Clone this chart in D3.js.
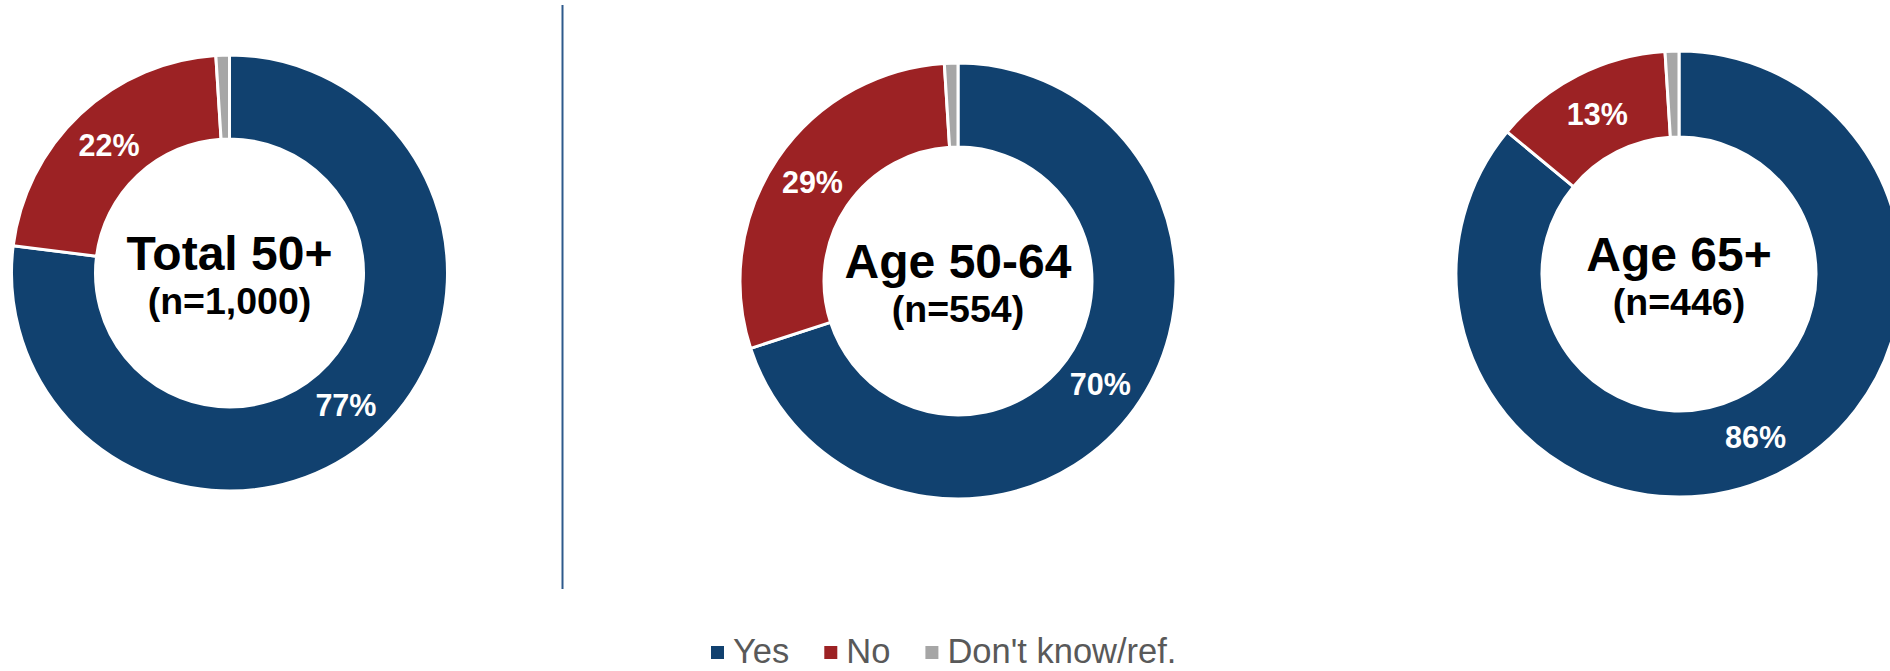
<!DOCTYPE html>
<html>
<head>
<meta charset="utf-8">
<script src="https://cdn.jsdelivr.net/npm/d3@7"></script>
<style>
  html, body { margin: 0; padding: 0; background: #fff; }
  svg { display: block; }
  text { font-family: "Liberation Sans", Arial, sans-serif; }
</style>
</head>
<body>
<svg id="chart" width="1890" height="671"></svg>
<script>
// ---- data ----
const categories = ["Yes", "No", "Don't know/ref."];
const groupTitles = ["Total 50+", "Age 50-64", "Age 65+"];
const groupSizes = ["(n=1,000)", "(n=554)", "(n=446)"];
const yesValues = [77, 70, 86];
const noValues = [22, 29, 13];
const dkValues = [1, 1, 1];

// ---- layout / style ----
const colors = ["#11416f", "#9c2224", "#a6a6a6"];
const layout = [
  { cx: 229.5, cy: 273, outer: 218, inner: 134 },
  { cx: 958, cy: 281, outer: 218, inner: 134 },
  { cx: 1679, cy: 274, outer: 223, inner: 137 }
];

const svg = d3.select("#chart");
const color = d3.scaleOrdinal().domain(categories).range(colors);

const pie = d3.pie().sort(null).value(d => d.value);

groupTitles.forEach((title, i) => {
  const L = layout[i];
  const data = [
    { cat: categories[0], value: yesValues[i] },
    { cat: categories[1], value: noValues[i] },
    { cat: categories[2], value: dkValues[i] }
  ];
  const arc = d3.arc().innerRadius(L.inner).outerRadius(L.outer);
  const mid = (L.inner + L.outer) / 2;
  const labelArc = d3.arc().innerRadius(mid).outerRadius(mid);
  const g = svg.append("g").attr("transform", `translate(${L.cx},${L.cy})`);
  const arcs = pie(data);
  g.selectAll("path").data(arcs).join("path")
    .attr("d", arc)
    .attr("fill", d => color(d.data.cat))
    .attr("stroke", "#fff")
    .attr("stroke-width", 3)
    .attr("stroke-linejoin", "miter");
  g.selectAll("text.pct").data(arcs.filter(d => d.data.value >= 5)).join("text")
    .attr("class", "pct")
    .attr("transform", d => `translate(${labelArc.centroid(d)})`)
    .attr("text-anchor", "middle")
    .attr("dy", "0.36em")
    .attr("fill", "#fff")
    .attr("font-weight", "bold")
    .attr("font-size", 30.5)
    .text(d => d.data.value + "%");
  g.append("text")
    .attr("text-anchor", "middle")
    .attr("y", -3)
    .attr("font-weight", "bold")
    .attr("font-size", 48)
    .attr("fill", "#000")
    .text(title);
  g.append("text")
    .attr("text-anchor", "middle")
    .attr("y", 41)
    .attr("font-weight", "bold")
    .attr("font-size", 37.5)
    .attr("fill", "#000")
    .text(groupSizes[i]);
});

// divider
svg.append("line")
  .attr("x1", 562.5).attr("x2", 562.5)
  .attr("y1", 5).attr("y2", 589)
  .attr("stroke", "#2e5a8c")
  .attr("stroke-width", 2);

// legend
const legend = svg.append("g");
let x = 711;
categories.forEach((c, i) => {
  legend.append("rect")
    .attr("x", x).attr("y", 646)
    .attr("width", 13).attr("height", 13)
    .attr("fill", color(c));
  const t = legend.append("text")
    .attr("x", x + 22).attr("y", 663)
    .attr("font-size", 34.5)
    .attr("fill", "#595959")
    .text(c);
  x += 22 + t.node().getComputedTextLength() + 35;
});
</script>
</body>
</html>
